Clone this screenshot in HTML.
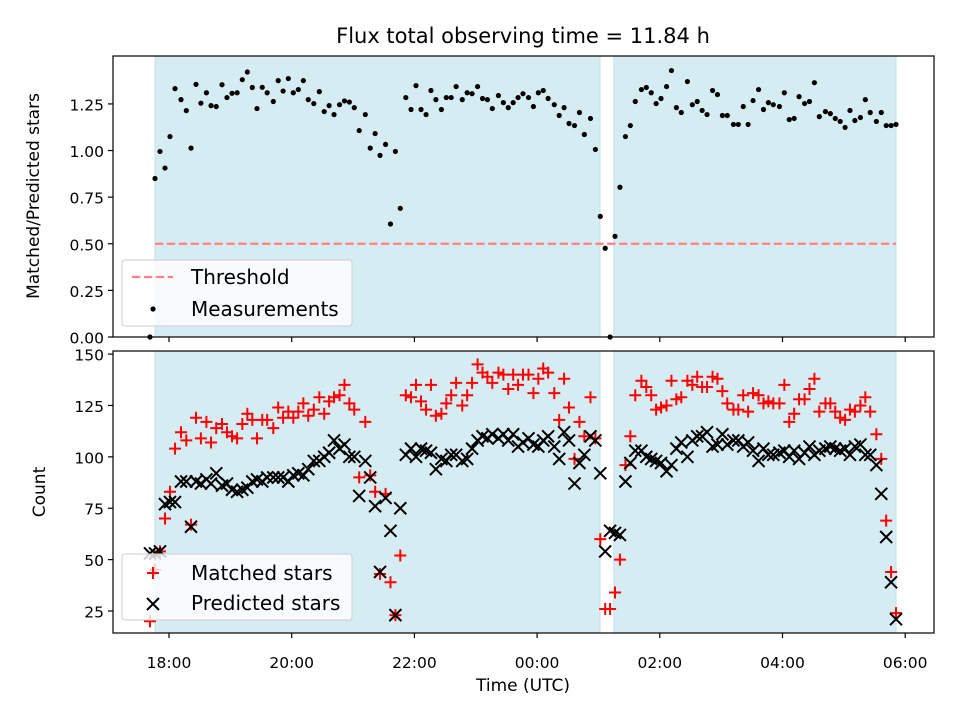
<!DOCTYPE html>
<html><head><meta charset="utf-8"><style>
body{margin:0;background:#fff;}
svg{display:block;font-family:"DejaVu Sans","Liberation Sans",sans-serif;}
</style></head><body>
<svg id="fig" width="960" height="720" viewBox="0 0 960 720"></svg>
<script>
const times=[-0.31,-0.228,-0.147,-0.065,0.016,0.098,0.196,0.282,0.359,0.44,0.52,0.61,0.685,0.77,0.864,0.945,1.027,1.11,1.195,1.277,1.358,1.434,1.52,1.6,1.7,1.78,1.86,1.945,2.026,2.108,2.19,2.27,2.36,2.45,2.53,2.61,2.69,2.78,2.86,2.94,3.02,3.1,3.2,3.28,3.36,3.44,3.53,3.61,3.69,3.77,3.86,3.945,4.026,4.108,4.19,4.27,4.35,4.44,4.52,4.6,4.68,4.78,4.86,4.94,5.03,5.11,5.19,5.27,5.37,5.45,5.53,5.61,5.69,5.77,5.86,5.94,6.02,6.1,6.18,6.28,6.36,6.44,6.52,6.61,6.69,6.77,6.87,6.95,7.03,7.11,7.19,7.27,7.35,7.44,7.52,7.6,7.7,7.78,7.86,7.94,8.02,8.11,8.19,8.27,8.35,8.45,8.53,8.61,8.69,8.77,8.86,8.94,9.02,9.1,9.2,9.28,9.36,9.44,9.52,9.61,9.69,9.77,9.85,9.95,10.03,10.11,10.19,10.27,10.36,10.44,10.52,10.6,10.7,10.78,10.86,10.94,11.02,11.1,11.18,11.27,11.35,11.43,11.53,11.61,11.69,11.77,11.85];
const ratio=[0,0.85,0.995,0.906,1.075,1.332,1.273,1.214,1.013,1.355,1.254,1.31,1.241,1.236,1.353,1.284,1.307,1.31,1.38,1.421,1.338,1.225,1.339,1.31,1.263,1.375,1.319,1.386,1.31,1.327,1.375,1.273,1.252,1.316,1.209,1.241,1.193,1.246,1.266,1.26,1.23,1.107,1.193,1.013,1.091,0.974,1.033,0.606,0.995,0.69,1.284,1.22,1.348,1.22,1.193,1.322,1.273,1.22,1.284,1.284,1.343,1.273,1.31,1.305,1.343,1.279,1.273,1.225,1.295,1.257,1.23,1.257,1.284,1.305,1.284,1.236,1.31,1.322,1.279,1.246,1.188,1.23,1.145,1.134,1.204,1.086,1.172,1.006,0.647,0.476,0,0.54,0.803,1.075,1.134,1.263,1.327,1.338,1.31,1.252,1.279,1.343,1.429,1.23,1.204,1.37,1.246,1.263,1.215,1.193,1.322,1.3,1.188,1.188,1.14,1.14,1.236,1.14,1.268,1.327,1.22,1.257,1.246,1.236,1.31,1.166,1.172,1.289,1.252,1.263,1.364,1.182,1.209,1.198,1.172,1.156,1.124,1.215,1.161,1.177,1.273,1.204,1.156,1.204,1.134,1.134,1.14];
const matched=[20,45,54,70,83,104,112,108,67,119,109,117,107,114,116,112,110,109,116,121,118,109,118,118,114,124,119,122,119,122,126,120,123,129,121,127,129,130,135,126,123,90,117,91,83,43,82,39,23,52,130,129,135,127,123,135,120,121,126,130,136,125,130,136,145,141,139,136,141,140,133,140,135,140,140,131,138,143,141,131,118,138,124,99,117,110,129,109,60,26,26,34,50,96,110,130,137,134,130,123,124,125,137,128,129,137,135,139,134,134,139,138,132,126,123,123,130,122,131,130,126,127,126,126,135,117,121,128,128,133,138,122,126,126,122,119,118,123,122,125,129,122,111,99,69,44,24];
const predicted=[53,53,54,77,78,78,88,88,66,88,87,89,87,92,86,87,84,83,84,85,88,89,88,90,90,90,90,88,91,92,91,94,98,98,100,102,108,104,106,100,100,81,98,90,76,44,80,64,23,75,101,104,100,104,103,102,94,99,98,101,101,98,99,104,108,110,109,111,109,111,108,111,105,107,109,106,105,108,110,105,99,112,108,87,97,101,110,108,92,54,64,63,62,88,97,103,103,100,99,98,97,93,96,104,107,100,108,110,110,112,105,106,111,106,108,108,105,107,103,98,104,101,101,102,103,100,103,99,102,105,101,103,104,105,104,103,104,101,105,106,101,101,96,82,61,39,21];
const spans=[[-0.228,7.025],[7.25,11.85]];
const xTickVals=[0,2,4,6,8,10,12];
const xTickLabels=["18:00","20:00","22:00","00:00","02:00","04:00","06:00"];
const topTickVals=[0,0.25,0.5,0.75,1.0,1.25];
const topTickLabels=["0.00","0.25","0.50","0.75","1.00","1.25"];
const botTickVals=[25,50,75,100,125,150];
const botTickLabels=["25","50","75","100","125","150"];
const threshold=0.5;

const NS="http://www.w3.org/2000/svg";
const svg=document.getElementById('fig');
function mk(tag,attrs,parent){const e=document.createElementNS(NS,tag);for(const k in attrs)e.setAttribute(k,attrs[k]);(parent||svg).appendChild(e);return e;}
const L=113,R=934,T1=56,B1=337,T2=351,B2=633;
const xs=t=>169+61.35*t;
const yTop=v=>B1-v/1.507*(B1-T1);
const yBot=v=>B2-(v-14.3)/137.2*(B2-T2);

function axes(T,B,yf,tv,tl,name){
  const g=mk('g',{});
  
  
  spans.forEach((s,i)=>{
    const r=mk('rect',{x:xs(s[0]),y:T,width:xs(s[1])-xs(s[0]),height:B-T,fill:'rgb(214,236,243)',stroke:'rgb(196,226,235)','stroke-width':1},g);
    
    
  });
  tv.forEach((v,i)=>{
    const y=yf(v);
    mk('line',{x1:L-5,x2:L,y1:y,y2:y,stroke:'#000','stroke-width':1.2},g);
    const t=mk('text',{x:L-9,y:y+6.5,'text-anchor':'end','font-size':15.5},g);
    t.textContent=tl[i];
    
    
  });
  xTickVals.forEach(v=>{mk('line',{x1:xs(v),x2:xs(v),y1:B,y2:B+5,stroke:'#000','stroke-width':1.2},g);});
  return g;
}
const gTop=axes(T1,B1,yTop,topTickVals,topTickLabels,'top-axes');
const th=mk('line',{x1:xs(spans[0][0]),x2:xs(spans[1][1]),y1:yTop(threshold),y2:yTop(threshold),stroke:'#ff8080','stroke-width':2.3,'stroke-dasharray':'8.3,3.6'},gTop);


times.forEach((t,i)=>{
  const c=mk('circle',{cx:xs(t),cy:yTop(ratio[i]),r:2.6,fill:'#000'},gTop);
  
  
});
mk('rect',{x:L,y:T1,width:R-L,height:B1-T1,fill:'none',stroke:'#000','stroke-width':1.2},gTop);

const gBot=axes(T2,B2,yBot,botTickVals,botTickLabels,'bottom-axes');
function plus(x,y,g,c,a){const p=mk('path',{d:`M${x-6} ${y}H${x+6}M${x} ${y-6}V${y+6}`,stroke:c,'stroke-width':2,fill:'none',opacity:a||1},g);return p;}
function cross(x,y,g,c,a){const p=mk('path',{d:`M${x-6} ${y-6}L${x+6} ${y+6}M${x+6} ${y-6}L${x-6} ${y+6}`,stroke:c,'stroke-width':2,fill:'none',opacity:a||1},g);return p;}
times.forEach((t,i)=>{
  const p=plus(xs(t),yBot(matched[i]),gBot,'#ff0000');
  
  
});
times.forEach((t,i)=>{
  const p=cross(xs(t),yBot(predicted[i]),gBot,'#000');
  
  
});
mk('rect',{x:L,y:T2,width:R-L,height:B2-T2,fill:'none',stroke:'#000','stroke-width':1.2},gBot);
xTickVals.forEach((v,i)=>{
  const t=mk('text',{x:xs(v),y:668,'text-anchor':'middle','font-size':15.5});
  t.textContent=xTickLabels[i];
  
  
});

const lg1=mk('g',{});


mk('rect',{x:122,y:260,width:230,height:66,rx:3,fill:'rgba(255,255,255,0.8)',stroke:'#cccccc','stroke-width':1},lg1);
mk('line',{x1:132,x2:173,y1:277,y2:277,stroke:'#ff8080','stroke-width':2.3,'stroke-dasharray':'8.3,3.6'},lg1);
const t1=mk('text',{x:191,y:284,'font-size':20},lg1);t1.textContent='Threshold';
mk('circle',{cx:153,cy:309,r:2.6,fill:'#000'},lg1);
const t2=mk('text',{x:191,y:316,'font-size':20},lg1);t2.textContent='Measurements';

const lg2=mk('g',{});


mk('rect',{x:122,y:554,width:230,height:66,rx:3,fill:'rgba(255,255,255,0.8)',stroke:'#cccccc','stroke-width':1},lg2);
plus(153,573,lg2,'#ff0000');
const t3=mk('text',{x:191,y:580,'font-size':20},lg2);t3.textContent='Matched stars';
cross(153,604,lg2,'#000');
const t4=mk('text',{x:191,y:610,'font-size':20},lg2);t4.textContent='Predicted stars';

const title=mk('text',{x:523,y:43,'text-anchor':'middle','font-size':21});
title.textContent='Flux total observing time = 11.84 h';


const xl=mk('text',{x:523,y:691,'text-anchor':'middle','font-size':17});
xl.textContent='Time (UTC)';


const yl1=mk('text',{x:0,y:0,'text-anchor':'middle','font-size':17,transform:'translate(39,196) rotate(-90)'});
yl1.textContent='Matched/Predicted stars';


const yl2=mk('text',{x:0,y:0,'text-anchor':'middle','font-size':17,transform:'translate(45,492) rotate(-90)'});
yl2.textContent='Count';


</script>
</body></html>
